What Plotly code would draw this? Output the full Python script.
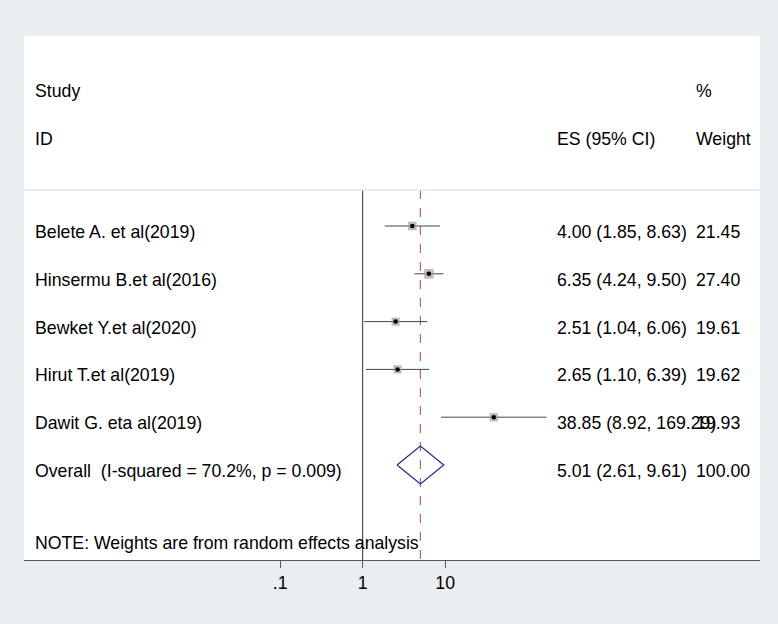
import numpy as np
import plotly.graph_objects as go

# study level data
studies = ["Belete A. et al(2019)", "Hinsermu B.et al(2016)", "Bewket Y.et al(2020)",
           "Hirut T.et al(2019)", "Dawit G. eta al(2019)"]
es = [4.00, 6.35, 2.51, 2.65, 38.85]
ci_lo = [1.85, 4.24, 1.04, 1.10, 8.92]
ci_hi = [8.63, 9.50, 6.06, 6.39, 169.29]
weights = [21.45, 27.40, 19.61, 19.62, 19.93]

overall_es = 5.01
overall_lo = 2.61
overall_hi = 9.61
overall_weight = 100.00
i_squared = 70.2
p_value = 0.009

tick_vals = [0.1, 1, 10]
tick_text = [".1", "1", "10"]

FONT = "Liberation Sans, Arial, sans-serif"
FS = 17.7
ROW_PX = 47.8          # pixel height of one row
PLOT_W, PLOT_H = 736, 524

rows = list(range(len(studies)))
overall_row = len(studies)

fig = go.Figure()

# null line and overall-effect line
fig.add_trace(go.Scatter(x=[1, 1], y=[-0.753, 7.2], mode="lines",
                         line=dict(color="#333333", width=1), hoverinfo="skip"))
fig.add_trace(go.Scatter(x=[overall_es, overall_es], y=[-0.753, 7.2], mode="lines",
                         line=dict(color="#c0605f", width=1.2, dash="dash"), hoverinfo="skip"))

# confidence intervals
cx, cy = [], []
for r, lo, hi in zip(rows, ci_lo, ci_hi):
    cx += [lo, hi, None]
    cy += [r, r, None]
fig.add_trace(go.Scatter(x=cx, y=cy, mode="lines", line=dict(color="#444444", width=1),
                         hoverinfo="skip"))

# weight boxes and point estimates
fig.add_trace(go.Scatter(x=es, y=rows, mode="markers",
                         marker=dict(symbol="square", color="#a3a3a3",
                                     size=[1.85 * np.sqrt(w) for w in weights],
                                     line=dict(width=0))))
fig.add_trace(go.Scatter(x=es, y=rows, mode="markers",
                         marker=dict(symbol="circle", color="black", size=4.5)))

# overall diamond
h = 19 / ROW_PX
fig.add_trace(go.Scatter(x=[overall_lo, overall_es, overall_hi, overall_es, overall_lo],
                         y=[overall_row, overall_row - h, overall_row, overall_row + h, overall_row],
                         mode="lines", line=dict(color="#232c8c", width=1.2), hoverinfo="skip"))

def px_x(p):
    return (p - 24) / PLOT_W

def px_y(p):
    return (560 - p) / PLOT_H

ann = []
def txt(text, x, y, yref="paper", yshift=0):
    ann.append(dict(text=text, x=x, y=y, xref="paper", yref=yref, xanchor="left",
                    yanchor="middle", showarrow=False, yshift=yshift,
                    font=dict(family=FONT, size=FS, color="black")))

txt("Study", px_x(33), px_y(90.5))
txt("ID", px_x(33), px_y(138.5))
txt("%", px_x(694), px_y(90.5))
txt("ES (95% CI)", px_x(555), px_y(138.5))
txt("Weight", px_x(694), px_y(138.5))

for r, name, e, lo, hi, w in zip(rows, studies, es, ci_lo, ci_hi, weights):
    txt(name, px_x(33), r, yref="y", yshift=-6)
    txt(f"{e:.2f} ({lo:.2f}, {hi:.2f})", px_x(555), r, yref="y", yshift=-6)
    txt(f"{w:.2f}", px_x(694), r, yref="y", yshift=-6)

txt(f"Overall  (I-squared = {i_squared:.1f}%, p = {p_value:.3f})", px_x(33), overall_row,
    yref="y", yshift=-6)
txt(f"{overall_es:.2f} ({overall_lo:.2f}, {overall_hi:.2f})", px_x(555), overall_row,
    yref="y", yshift=-6)
txt(f"{overall_weight:.2f}", px_x(694), overall_row, yref="y", yshift=-6)
txt("NOTE: Weights are from random effects analysis", px_x(33), px_y(542.5))

fig.update_layout(
    width=778, height=624,
    margin=dict(l=24, r=18, t=36, b=64),
    paper_bgcolor="#e9eff1", plot_bgcolor="white",
    showlegend=False,
    annotations=ann,
    shapes=[dict(type="line", xref="paper", yref="paper", x0=0, x1=1,
                 y0=px_y(190), y1=px_y(190), line=dict(color="#dfe8ea", width=1.5))],
    font=dict(family=FONT, size=FS, color="black"),
)
x0 = -4.105
fig.update_xaxes(type="log", range=[x0, x0 + PLOT_W / 82.5], showgrid=False, zeroline=False,
                 showline=True, linecolor="#555555", linewidth=1,
                 ticks="outside", ticklen=7, tickcolor="#555555",
                 tickvals=tick_vals, ticktext=tick_text,
                 tickfont=dict(family=FONT, size=FS, color="black"))
fig.update_yaxes(range=[(560 - 226) / ROW_PX, (36 - 226) / ROW_PX], visible=False)

fig.write_html("out.html", config={"displayModeBar": False},
               post_script="document.body.style.margin='0';document.body.style.background='#e9eff1';")
